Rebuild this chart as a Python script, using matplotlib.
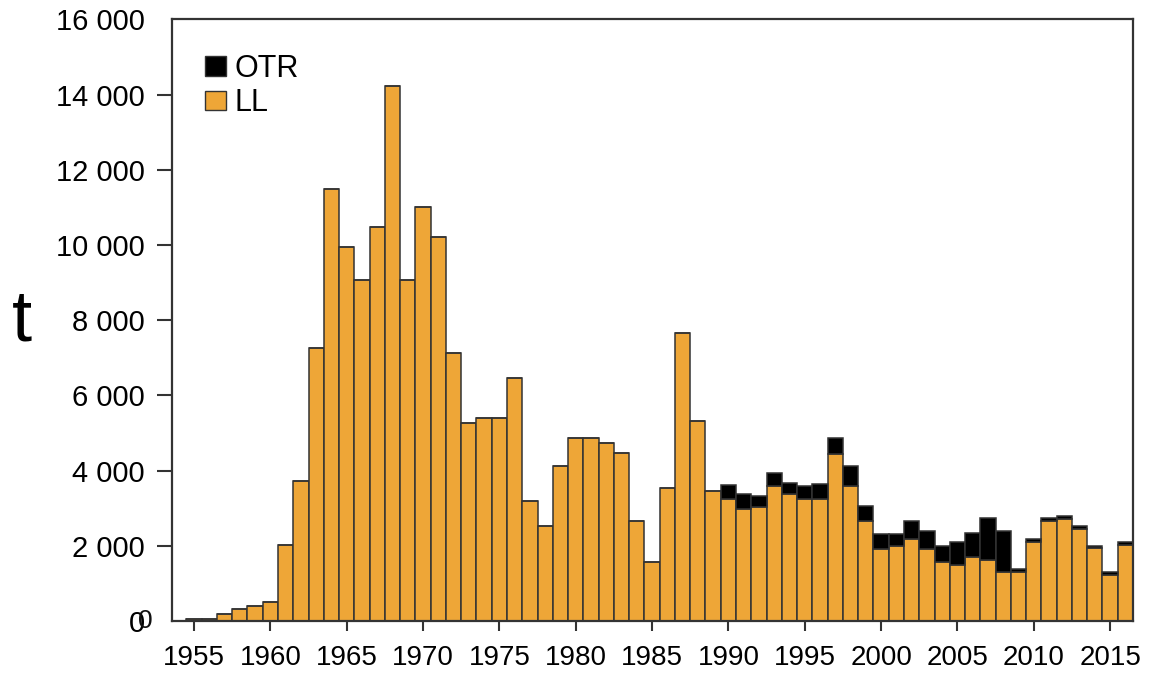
import matplotlib
matplotlib.use("Agg")
import matplotlib.pyplot as plt
from matplotlib.patches import Patch

plt.rcParams['font.family'] = ['Liberation Sans', 'DejaVu Sans']

years = list(range(1955, 2017))

# Longline catches (t)
ll = [60, 60, 190, 330, 400, 500, 2030, 3720, 7260, 11500,
      9950, 9080, 10490, 14220, 9080, 11020, 10210, 7140, 5260, 5390,
      5390, 6470, 3190, 2520, 4130, 4860, 4860, 4730, 4460, 2660,
      1580, 3530, 7670, 5310, 3460, 3240, 2980, 3040, 3590, 3390,
      3240, 3240, 4440, 3590, 2650, 1910, 1990, 2170, 1910, 1570,
      1500, 1700, 1630, 1300, 1300, 2100, 2650, 2710, 2440, 1930,
      1230, 2030]

# Other gears (t)
otr = [0] * 35 + [365, 410, 280, 335, 270,
                  350, 400, 430, 540, 400, 400, 320, 490, 480, 430,
                  600, 630, 1110, 1090, 70, 70, 90, 80, 80, 70,
                  70, 70]

ytick_values = [0, 2000, 4000, 6000, 8000, 10000, 12000, 14000, 16000]
ytick_labels = ["0", "2 000", "4 000", "6 000", "8 000", "10 000",
                "12 000", "14 000", "16 000"]
xtick_values = list(range(1955, 2016, 5))

ll_color = '#EEA637'
otr_color = '#000000'
edge = '#333333'

fig = plt.figure(figsize=(11.5, 6.76), dpi=100)
ax = fig.add_axes([0.1496, 0.0814, 0.8356, 0.8898])

ax.bar(years, ll, width=1.0, color=ll_color, edgecolor=edge, linewidth=1.1)
ax.bar(years, otr, width=1.0, bottom=ll, color=otr_color, edgecolor=edge,
       linewidth=1.1)

ax.set_xlim(1953.56, 2016.5)
ax.set_ylim(0, 16000)

ax.set_yticks(ytick_values)
ax.set_yticklabels(ytick_labels)
ax.set_xticks(xtick_values)
ax.set_xticklabels([str(y) for y in xtick_values])

ax.tick_params(axis='y', direction='out', length=10.8, width=1.5,
               color=edge, labelsize=21, pad=8.6)
ax.tick_params(axis='x', direction='out', length=7.2, width=1.5,
               color=edge, labelsize=20, pad=10)
ylines = ax.yaxis.get_ticklines()
for i in (0, 1, len(ylines) - 2, len(ylines) - 1):
    ylines[i].set_visible(False)

for s in ax.spines.values():
    s.set_linewidth(1.6)
    s.set_color(edge)

# axis unit label
fig.text(0.0187, 0.497, "t", fontsize=52, ha='center', va='baseline')

# stray second zero beside the origin label
ax.text(-0.028, 0.0, "0", transform=ax.transAxes, fontsize=19,
        family=['Liberation Sans Narrow', 'Liberation Sans'],
        ha='center', va='center', color='#111111')

handles = [Patch(facecolor=otr_color, edgecolor=edge, label='OTR'),
           Patch(facecolor=ll_color, edgecolor=edge, label='LL')]
ax.legend(handles=handles, loc='upper left', bbox_to_anchor=(0.034, 0.943),
          frameon=False, fontsize=22, handlelength=0.69, handleheight=0.62,
          handletextpad=0.3, labelspacing=0.15, borderaxespad=0.0,
          borderpad=0.0)

fig.savefig("out.png", dpi=100)
